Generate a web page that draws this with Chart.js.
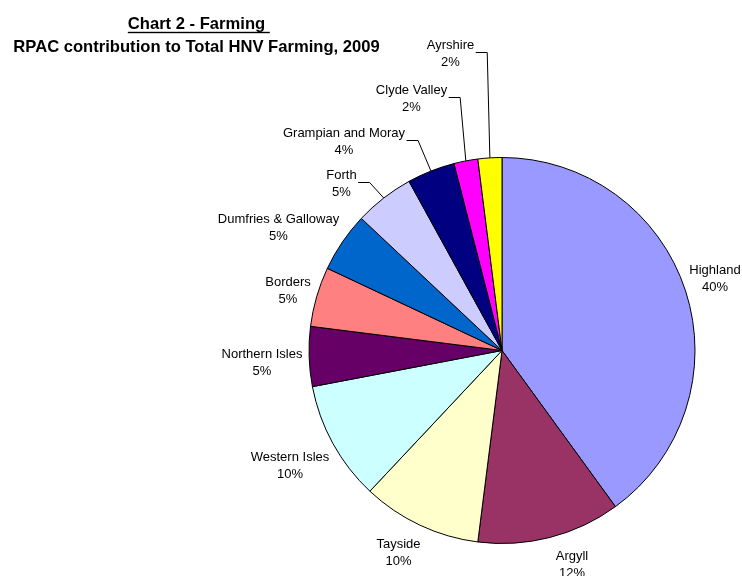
<!DOCTYPE html>
<html>
<head>
<meta charset="utf-8">
<script src="https://cdn.jsdelivr.net/npm/chart.js@4/dist/chart.umd.min.js"></script>
<style>
  html, body { margin: 0; padding: 0; background: #fff; }
  #wrap { width: 742px; height: 576px; position: relative; }
</style>
</head>
<body>
<div id="wrap"><canvas id="c" width="742" height="576"></canvas></div>
<script>
// Share of total HNV farming by RPAC region, 2009 (percent)
const regions = ['Highland', 'Argyll', 'Tayside', 'Western Isles', 'Northern Isles', 'Borders',
                 'Dumfries & Galloway', 'Forth', 'Grampian and Moray', 'Clyde Valley', 'Ayrshire'];
const shares = [40, 12, 10, 10, 5, 5, 5, 5, 4, 2, 2];

const titleLines = ['Chart 2 - Farming', 'RPAC contribution to Total HNV Farming, 2009'];

const sliceColours = ['#9999FF', '#993366', '#FFFFCC', '#CCFFFF', '#660066', '#FF8080',
                      '#0066CC', '#CCCCFF', '#000080', '#FF00FF', '#FFFF00'];

// Where each two-line label sits: centre x and baseline of the first line,
// and whether it is tied back to its slice with a leader line.
const labelPlacement = [
  { x: 715,   y: 274, leader: false },
  { x: 572,   y: 560, leader: false },
  { x: 398.5, y: 548, leader: false },
  { x: 290,   y: 461, leader: false },
  { x: 262,   y: 358, leader: false },
  { x: 288,   y: 286, leader: false },
  { x: 278.5, y: 223, leader: false },
  { x: 341.5, y: 179, leader: true },
  { x: 344,   y: 137, leader: true },
  { x: 411.5, y: 94,  leader: true },
  { x: 450.5, y: 49,  leader: true }
];

const LABEL_FONT = '13px "Liberation Sans", Arial, sans-serif';
const TITLE_FONT = 'bold 16.6px "Liberation Sans", Arial, sans-serif';

const titlePlugin = {
  id: 'headline',
  afterDraw(chart) {
    const ctx = chart.ctx;
    ctx.save();
    ctx.font = TITLE_FONT;
    ctx.fillStyle = '#000';
    ctx.textAlign = 'center';
    ctx.textBaseline = 'alphabetic';
    const cx = 196.5;
    ctx.fillText(titleLines[0], cx, 29);
    // underline runs under the heading plus one trailing space
    const w = ctx.measureText(titleLines[0]).width;
    const sp = ctx.measureText(' ').width;
    ctx.fillRect(cx - w / 2, 31.8, w + sp, 1.4);
    ctx.fillText(titleLines[1], cx, 52);
    ctx.restore();
  }
};

const sliceLabelPlugin = {
  id: 'sliceLabels',
  afterDatasetsDraw(chart) {
    const ctx = chart.ctx;
    const arcs = chart.getDatasetMeta(0).data;
    ctx.save();
    ctx.font = LABEL_FONT;
    ctx.fillStyle = '#000';
    ctx.strokeStyle = '#000';
    ctx.lineWidth = 1;
    ctx.textAlign = 'center';
    ctx.textBaseline = 'alphabetic';
    arcs.forEach((arc, i) => {
      const p = labelPlacement[i];
      const name = regions[i];
      ctx.fillText(name, p.x, p.y);
      ctx.fillText(shares[i] + '%', p.x, p.y + 16.5);
      if (p.leader) {
        const { x, y, startAngle, endAngle, outerRadius } =
          arc.getProps(['x', 'y', 'startAngle', 'endAngle', 'outerRadius'], true);
        const mid = (startAngle + endAngle) / 2;
        const ex = x + Math.cos(mid) * outerRadius;
        const ey = y + Math.sin(mid) * outerRadius;
        const right = p.x + ctx.measureText(name).width / 2;
        const ly = Math.round(p.y + 3) + 0.5;
        ctx.beginPath();
        ctx.moveTo(right + 1.5, ly);
        ctx.lineTo(right + 13, ly);
        ctx.lineTo(ex, ey);
        ctx.stroke();
      }
    });
    ctx.restore();
  }
};

new Chart(document.getElementById('c'), {
  type: 'pie',
  data: {
    labels: regions,
    datasets: [{
      data: shares,
      backgroundColor: sliceColours,
      borderColor: '#000',
      borderWidth: 1
    }]
  },
  options: {
    responsive: false,
    animation: false,
    devicePixelRatio: 1,
    layout: { padding: { left: 308.5, right: 46.5, top: 157, bottom: 32 } },
    plugins: {
      legend: { display: false },
      tooltip: { enabled: false },
      title: { display: false }
    }
  },
  plugins: [titlePlugin, sliceLabelPlugin]
});
</script>
</body>
</html>
